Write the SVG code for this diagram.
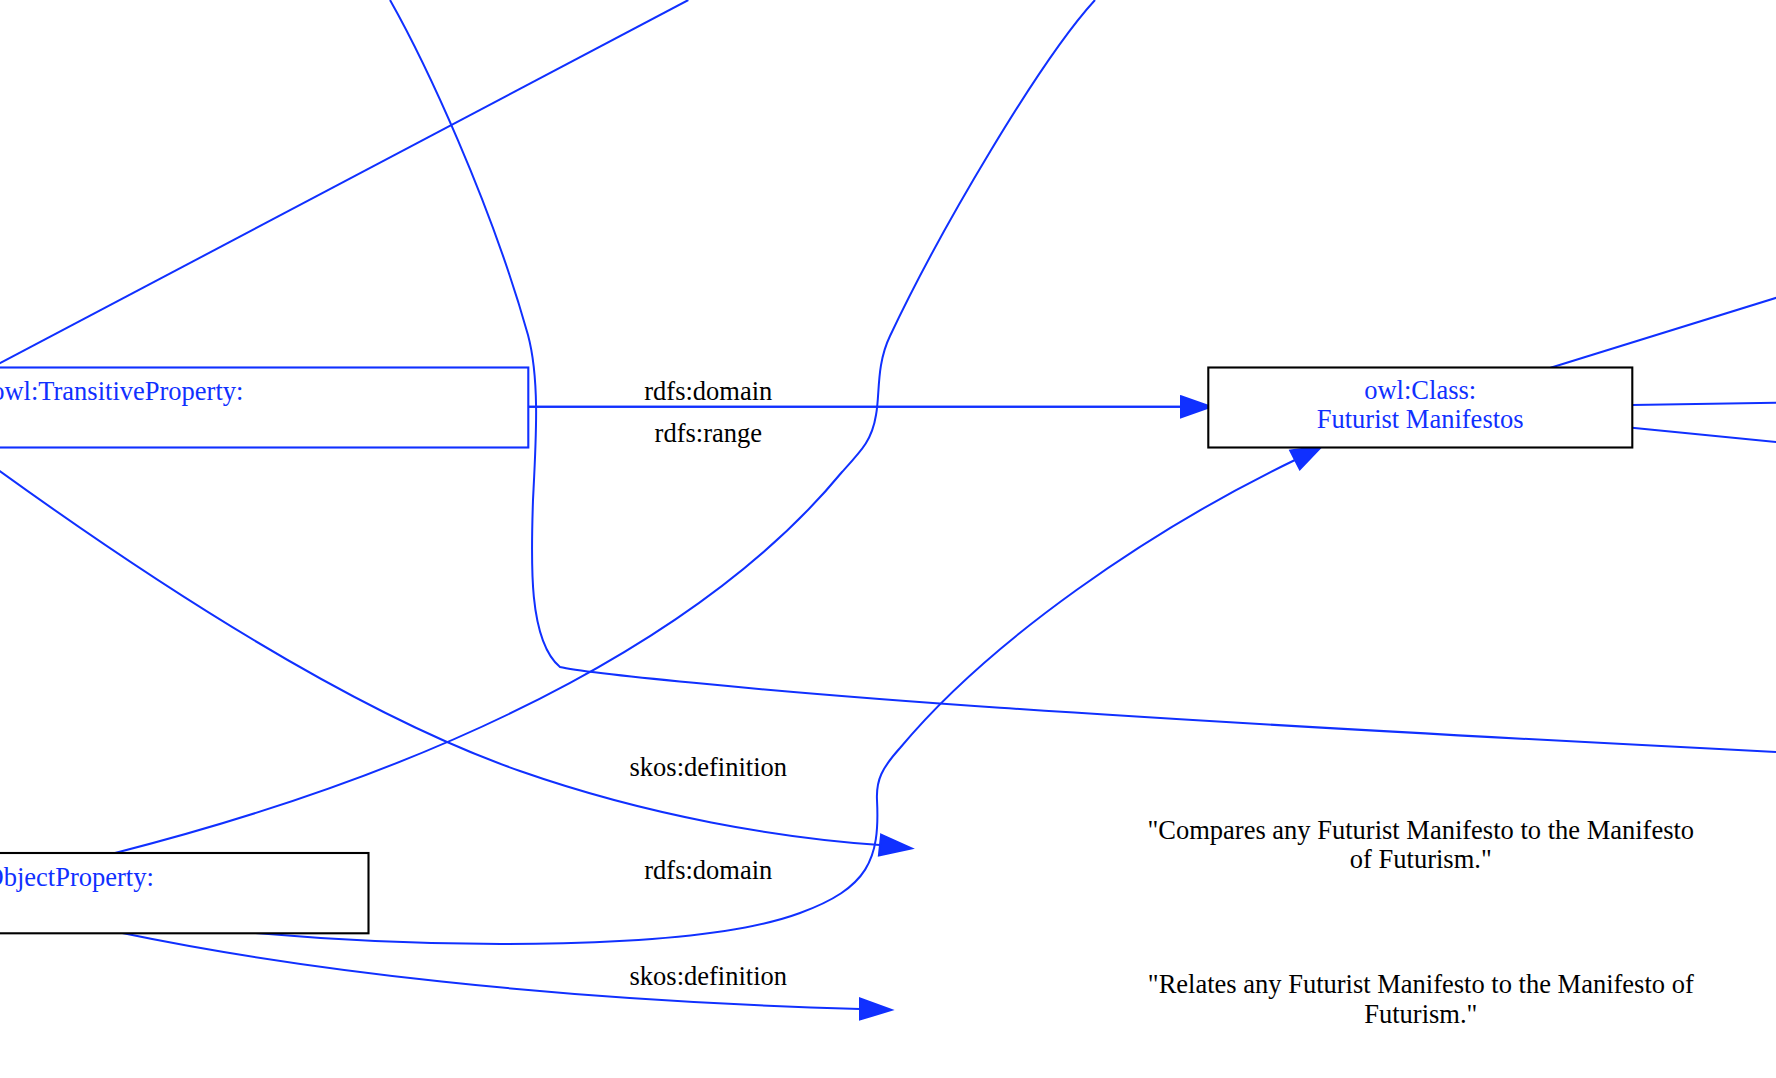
<svg xmlns="http://www.w3.org/2000/svg" width="1776" height="1078" viewBox="0 0 1776 1078">
<style>
.e{fill:none;stroke:#1030ff;stroke-width:2}
.ah{fill:#1030ff;stroke:#1030ff;stroke-width:2}
.nb{fill:#ffffff;stroke:#000000;stroke-width:2.1}
.nbb{fill:#ffffff;stroke:#1030ff;stroke-width:2.1}
.t{font-family:"Liberation Serif","Times New Roman",serif;font-size:26.5px}
.tb{fill:#1030ff}
.tk{fill:#000000}
</style>
<rect x="0" y="0" width="1776" height="1078" fill="#ffffff"/>
<g id="connectors">
<path class="e" d="M -10,368.5 L 688.3,0"/>
<path class="e" d="M 390,0 C 425,62 490,200 528,335 C 540,380 536,440 533,500 C 531,560 528,640 560,667 C 580,672 750,690.7 1000,707.7 C 1250,724.7 1500,738 1776,752"/>
<path class="e" d="M 1095,0 C 1040,60 940,230 890,336 C 876,365 880,395 876,415 C 872,440 862,450 842,472 C 720,620 480,760 115,853"/>
<path class="e" d="M -10,464 C 150,580 350,711.5 520,771 C 650,816.5 780,838 880,845"/>
<polygon class="ah" points="881.1,834.6 911.7,848.3 878.9,855.4"/>
<path class="e" d="M 528,406.8 L 1181,406.8"/>
<path class="e" d="M 528,406.8 L 1181,406.8"/>
<polygon class="ah" points="1181,396.3 1211,406.8 1181,417.3"/>
<path class="e" d="M 255.5,933 C 450,950 700,950 800,913 C 868,888 880,860 877,800 C 876,780 882,768 900,748 C 990,640 1150,530 1295,460"/>
<polygon class="ah" points="1290.2,450.6 1321.7,446.4 1299.8,469.4"/>
<path class="e" d="M 122.3,933 C 300,970 550,1000 860,1009"/>
<polygon class="ah" points="860,998.5 891.5,1010 860,1019.5"/>
<path class="e" d="M 1550.6,367.7 L 1790,293.5"/>
<path class="e" d="M 1632,405 L 1790,402.6"/>
<path class="e" d="M 1632,427.7 L 1790,443.3"/>
<text class="t tk" x="708.3" y="399.6" text-anchor="middle">rdfs:domain</text>
<text class="t tk" x="708.3" y="442" text-anchor="middle">rdfs:range</text>
<text class="t tk" x="708.3" y="776" text-anchor="middle">skos:definition</text>
<text class="t tk" x="708.3" y="879.3" text-anchor="middle">rdfs:domain</text>
<text class="t tk" x="708.3" y="985" text-anchor="middle">skos:definition</text>
</g>
<g id="node-transitive">
<rect class="nbb" x="-20" y="367.5" width="548.3" height="80"/>
<text class="t tb" x="243.4" y="400" text-anchor="end">owl:TransitiveProperty:</text>
</g>
<g id="node-class">
<rect class="nb" x="1208.3" y="367.5" width="424" height="80"/>
<text class="t tb" x="1420.2" y="399.3" text-anchor="middle">owl:Class:</text>
<text class="t tb" x="1420.2" y="428.3" text-anchor="middle">Futurist Manifestos</text>
</g>
<g id="node-objectproperty">
<rect class="nb" x="-20" y="853" width="388.5" height="80.3"/>
<text class="t tb" x="153.8" y="886" text-anchor="end">ObjectProperty:</text>
</g>
<g id="literal-compares">
<text class="t tk" x="1420.8" y="839.3" text-anchor="middle">"Compares any Futurist Manifesto to the Manifesto</text>
<text class="t tk" x="1420.8" y="868.3" text-anchor="middle">of Futurism."</text>
</g>
<g id="literal-relates">
<text class="t tk" x="1420.8" y="993.3" text-anchor="middle">"Relates any Futurist Manifesto to the Manifesto of</text>
<text class="t tk" x="1420.8" y="1022.7" text-anchor="middle">Futurism."</text>
</g>
</svg>
